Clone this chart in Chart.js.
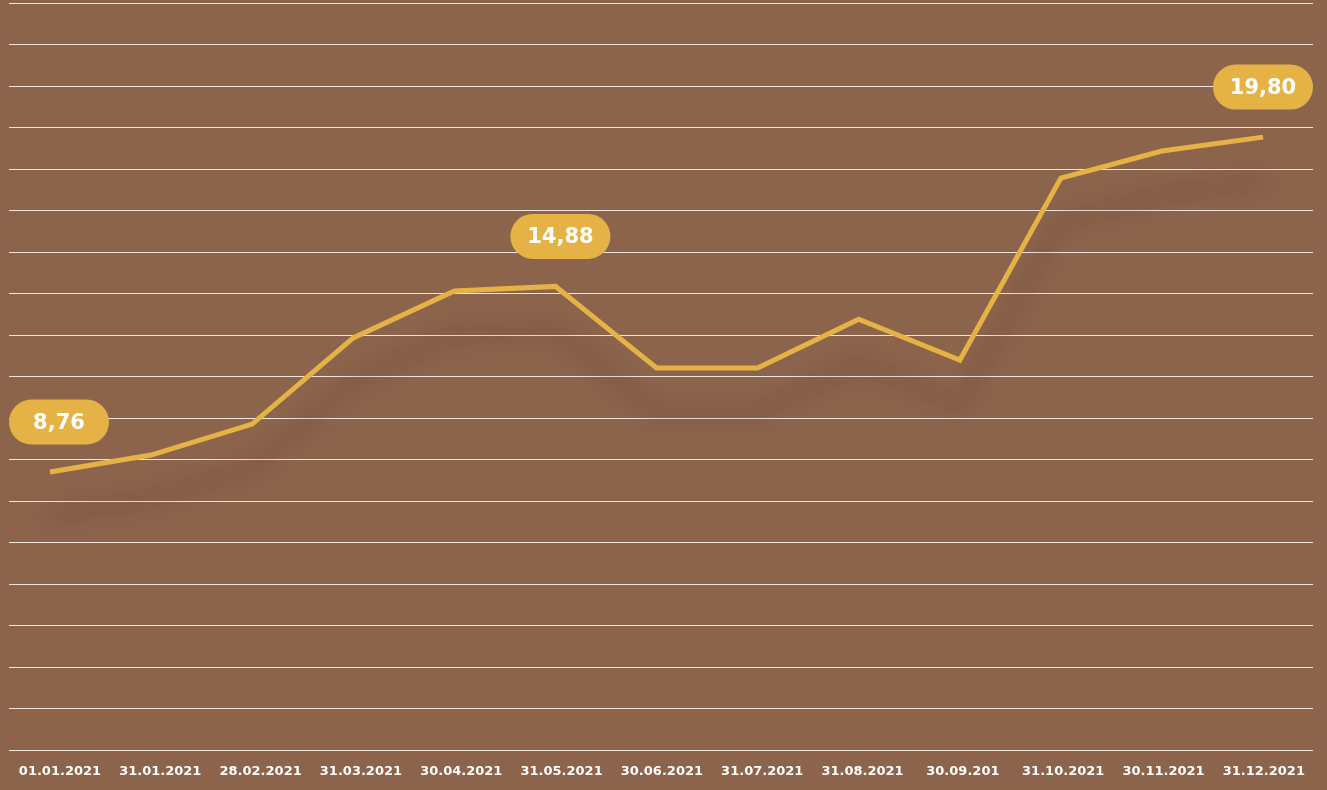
<!DOCTYPE html>
<html>
<head>
<meta charset="utf-8">
<script src="https://cdn.jsdelivr.net/npm/chart.js@4"></script>
<style>
  html, body { margin: 0; padding: 0; background: #8c644c; }
  #wrap { width: 1327px; height: 790px; }
</style>
</head>
<body>
<div id="wrap"><canvas id="myChart"></canvas></div>
<script>
const dates = ["01.01.2021", "31.01.2021", "28.02.2021", "31.03.2021", "30.04.2021", "31.05.2021",
  "30.06.2021", "31.07.2021", "31.08.2021", "30.09.201", "31.10.2021", "30.11.2021", "31.12.2021"];
const prices = [8.76, 9.32, 10.34, 13.18, 14.73, 14.88, 12.19, 12.19, 13.80, 12.45, 18.45, 19.34, 19.80];
const labelled = [0, 5, 12]; // points with a value bubble

const yellow = "#e5b345";

// soft shadow under the line
const lineShadow = {
  id: "lineShadow",
  beforeDatasetDraw(chart) {
    const c = chart.ctx;
    c.save();
    c.shadowColor = "rgba(85, 50, 30, 0.45)";
    c.shadowBlur = 18;
    c.shadowOffsetY = 44;
  },
  afterDatasetDraw(chart) {
    chart.ctx.restore();
  },
};

// pill labels above some points
const bubbles = {
  id: "bubbles",
  afterDatasetsDraw(chart) {
    const c = chart.ctx;
    const meta = chart.getDatasetMeta(0);
    const area = chart.chartArea;
    const w = 100, h = 45, r = 22.5;
    c.save();
    c.font = "bold 21px 'DejaVu Sans', sans-serif";
    c.textAlign = "center";
    c.textBaseline = "middle";
    labelled.forEach((i) => {
      const p = meta.data[i];
      let cx = Math.min(Math.max(p.x + 5, area.left + w / 2), area.right - w / 2);
      const cy = p.y - 50;
      c.fillStyle = yellow;
      c.beginPath();
      c.roundRect(cx - w / 2, cy - h / 2, w, h, r);
      c.fill();
      c.fillStyle = "#ffffff";
      c.fillText(prices[i].toFixed(2).replace(".", ","), cx, cy + 1);
    });
    c.restore();
  },
};

new Chart(document.getElementById("myChart"), {
  type: "line",
  data: {
    datasets: [
      {
        data: prices.map((v, i) => ({ x: i, y: v })),
        borderColor: yellow,
        borderWidth: 5,
        pointRadius: 0,
        tension: 0,
        xAxisID: "x",
        yAxisID: "y",
      },
    ],
  },
  options: {
    responsive: true,
    maintainAspectRatio: false,
    animation: false,
    layout: { padding: { left: 9, right: 14, top: 3, bottom: 0 } },
    scales: {
      x: {
        type: "linear",
        min: -0.405,
        max: 12.494,
        display: false,
      },
      xl: {
        type: "linear",
        position: "bottom",
        min: -0.508,
        max: 12.49,
        afterBuildTicks: (axis) => {
          axis.ticks = dates.map((d, i) => ({ value: i }));
        },
        afterFit: (axis) => {
          axis.height = 40;
        },
        ticks: {
          autoSkip: false,
          maxRotation: 0,
          color: "#ffffff",
          padding: 14,
          font: { family: "'DejaVu Sans', sans-serif", size: 13, weight: "bold" },
          callback: (v) => dates[v],
        },
        grid: { display: false, drawTicks: false },
        border: { display: false },
      },
      y: {
        min: -0.4,
        max: 24.22,
        display: false,
      },
      grid: {
        type: "linear",
        position: "left",
        min: 0,
        max: 18,
        ticks: { stepSize: 1, display: false },
        grid: { color: "rgba(255,255,255,0.85)", lineWidth: 1, drawTicks: false },
        border: { display: false },
      },
    },
    plugins: {
      legend: { display: false },
      tooltip: { enabled: false },
    },
  },
  plugins: [lineShadow, bubbles],
});
</script>
</body>
</html>
